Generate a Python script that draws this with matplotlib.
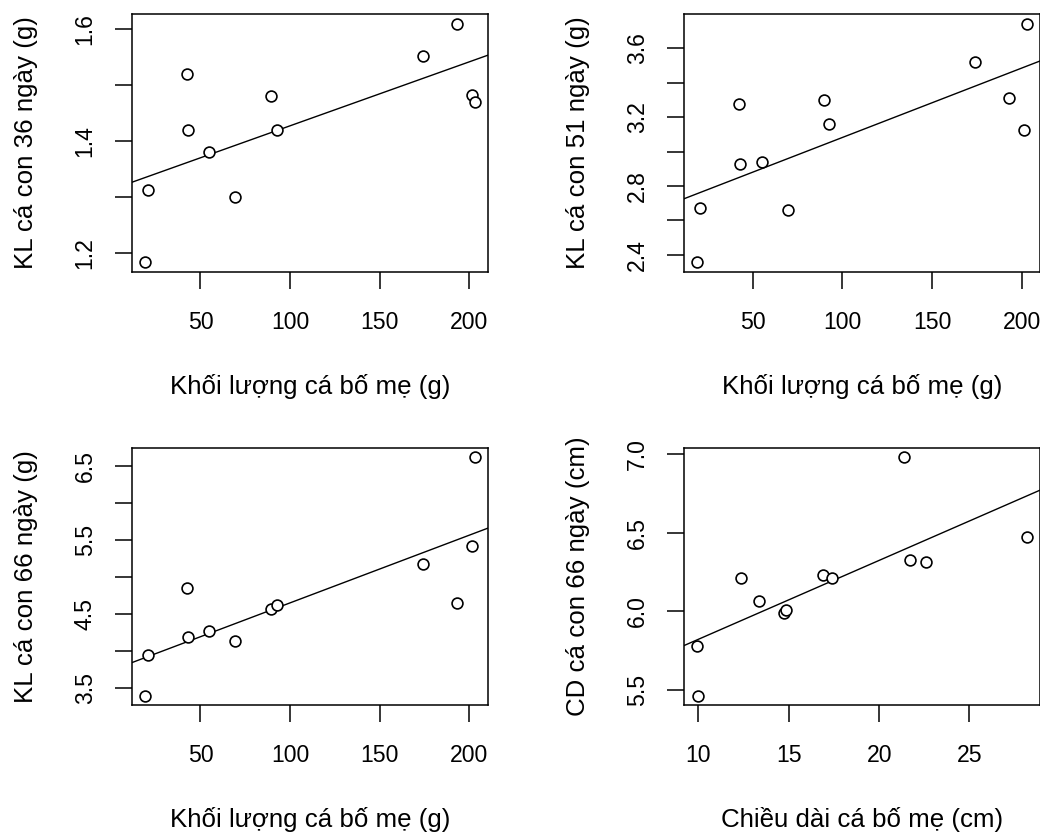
import numpy as np
import matplotlib
matplotlib.use("Agg")
import matplotlib.pyplot as plt

plt.rcParams['font.family'] = ['Liberation Sans', 'DejaVu Sans']

# ---- data ----
parent_mass = [19, 20.5, 42.5, 43, 55, 69.5, 89.5, 92.5, 174, 193, 201.5, 203]
kl36 = [1.184, 1.312, 1.520, 1.419, 1.380, 1.301, 1.480, 1.420, 1.552, 1.609, 1.482, 1.470]
kl51 = [2.355, 2.671, 3.276, 2.927, 2.939, 2.660, 3.300, 3.160, 3.523, 3.311, 3.127, 3.744]
kl66 = [3.400, 3.946, 4.856, 4.189, 4.270, 4.131, 4.563, 4.626, 5.180, 4.649, 5.423, 6.613]

parent_length = [9.93, 10.0, 12.35, 13.36, 14.75, 14.84, 16.92, 17.38, 21.40, 21.70, 22.61, 28.19]
cd66 = [5.779, 5.462, 6.214, 6.063, 5.990, 6.005, 6.231, 6.212, 6.981, 6.329, 6.316, 6.470]

xlab_mass = "Khối lượng cá bố mẹ (g)"
xlab_len = "Chiều dài cá bố mẹ (cm)"
ylabels = ["KL cá con 36 ngày (g)", "KL cá con 51 ngày (g)",
           "KL cá con 66 ngày (g)", "CD cá con 66 ngày (cm)"]

xticks_mass = [50, 100, 150, 200]
xticks_len = [10, 15, 20, 25]
yticks = [[1.2, 1.3, 1.4, 1.5, 1.6],
          [2.4, 2.6, 2.8, 3.0, 3.2, 3.4, 3.6],
          [3.5, 4.0, 4.5, 5.0, 5.5, 6.0, 6.5],
          [5.5, 6.0, 6.5, 7.0]]
ylabeled = [[1.2, 1.4, 1.6],
            [2.4, 2.8, 3.2, 3.6],
            [3.5, 4.5, 5.5, 6.5],
            [5.5, 6.0, 6.5, 7.0]]

panels = [
    (parent_mass, kl36, xlab_mass, xticks_mass),
    (parent_mass, kl51, xlab_mass, xticks_mass),
    (parent_mass, kl66, xlab_mass, xticks_mass),
    (parent_length, cd66, xlab_len, xticks_len),
]

W, H = 1040, 832
fig = plt.figure(figsize=(W / 100, H / 100), dpi=100)
fig.patch.set_facecolor('white')

# pixel boxes: (left, top, width, height)
boxes = [(131.7, 14.0, 356.3, 258.0),
         (684.0, 14.0, 356.3, 258.0),
         (131.7, 447.7, 356.3, 257.6),
         (684.0, 447.7, 356.3, 257.6)]


def fmt(v):
    return f"{v:.1f}"


for i, ((xs, ys, xl, xt), (l, t, w, h)) in enumerate(zip(panels, boxes)):
    ax = fig.add_axes([l / W, 1 - (t + h) / H, w / W, h / H])
    x = np.asarray(xs, float)
    y = np.asarray(ys, float)
    ax.plot(x, y, linestyle='none', marker='o', markersize=7.8,
            markerfacecolor='white', markeredgecolor='black',
            markeredgewidth=1.2, zorder=3)
    b, a = np.polyfit(x, y, 1)
    ax.axline((0, a), slope=b, color='black', linewidth=1.0, zorder=2)

    xr = x.max() - x.min()
    yr = y.max() - y.min()
    ax.set_xlim(x.min() - 0.04 * xr, x.max() + 0.04 * xr)
    ax.set_ylim(y.min() - 0.04 * yr, y.max() + 0.04 * yr)

    ax.set_xticks(xt)
    ax.set_xticklabels([str(v) for v in xt])
    ax.set_yticks(yticks[i])
    ax.set_yticklabels([fmt(v) if any(abs(v - u) < 1e-9 for u in ylabeled[i]) else ""
                        for v in yticks[i]], rotation=90, va='center')

    ax.tick_params(axis='both', direction='out', length=12.2, width=1.1,
                   labelsize=16.6, colors='black')
    ax.tick_params(axis='x', pad=16.0)
    ax.tick_params(axis='y', pad=13.0)
    for s in ax.spines.values():
        s.set_linewidth(1.1)
        s.set_color('black')

    ax.set_xlabel(xl, fontsize=18.6)
    ax.set_ylabel(ylabels[i], fontsize=18.6)
    ax.xaxis.set_label_coords(0.5, -114.7 / h)
    ax.xaxis.label.set_va('center')
    ax.yaxis.set_label_coords(-105.5 / w, 0.5)
    ax.yaxis.label.set_va('center')

fig.savefig("out.png", dpi=100, facecolor='white')
